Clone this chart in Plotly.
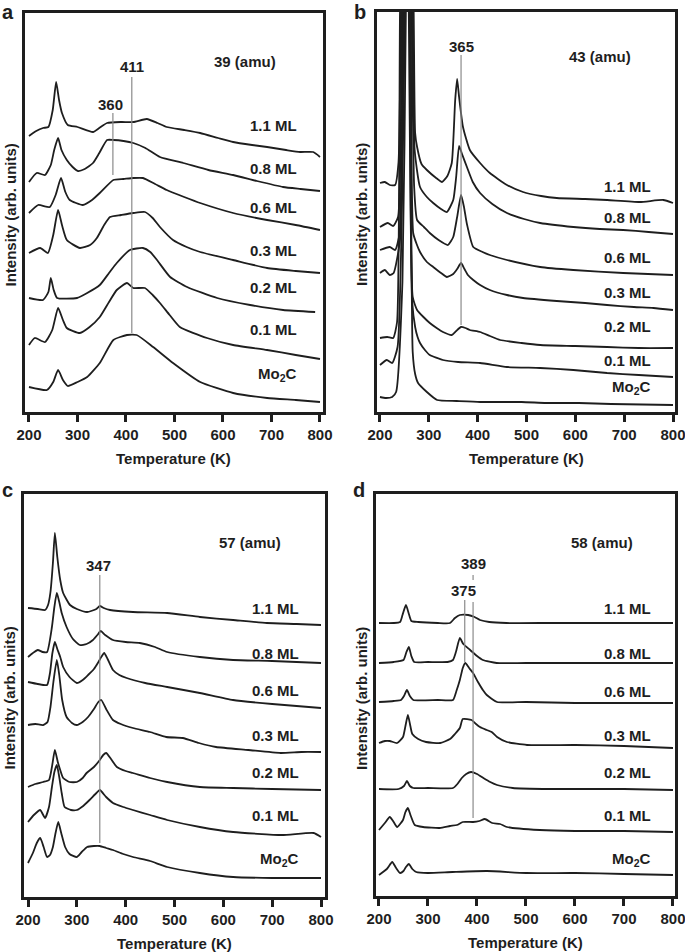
import plotly.graph_objects as go

# ---------------- DATA ----------------
# Each series: list of [temperature (K), intensity (arb. units, stacked offset)]
LABELS = ["1.1 ML", "0.8 ML", "0.6 ML", "0.3 ML", "0.2 ML", "0.1 ML", "Mo<sub>2</sub>C"]
TICKS = [200, 300, 400, 500, 600, 700, 800]

# Panel a: 39 amu
A_11 = [[200,276],[215,281],[229,284],[240,285],[249,302],[256,330],[262,312],[268,299],[280,287],[300,285],[332,280],[345,284],[361,289],[390,290],[415,290],[443,293],[465,289],[484,285],[520,282],[553,279],[590,274],[621,270],[660,267],[691,265],[730,262],[759,260],[786,260],[800,255]]
A_08 = [[200,230],[216,239],[233,237],[245,247],[252,262],[260,274],[267,262],[278,252],[290,245],[301,241],[315,243],[332,249],[345,259],[361,272],[374,272],[395,271],[415,269],[440,264],[470,255],[518,249],[570,242],[621,237],[670,231],[724,225],[760,223],[800,221]]
A_06 = [[200,199],[219,207],[243,205],[255,217],[266,234],[275,220],[284,212],[311,207],[330,212],[346,219],[374,232],[395,233],[415,234],[435,234],[460,228],[484,222],[520,215],[553,209],[621,199],[691,192],[750,187],[800,182]]
A_03 = [[200,159],[223,164],[239,159],[250,177],[260,202],[268,187],[278,172],[305,164],[326,167],[340,174],[355,187],[367,195],[390,197],[415,199],[439,200],[455,194],[470,185],[497,172],[525,165],[553,160],[621,152],[691,144],[750,141],[800,139]]
A_02 = [[200,114],[229,112],[240,120],[245,134],[251,122],[258,114],[299,114],[320,119],[346,127],[365,139],[381,149],[408,162],[435,164],[450,160],[464,152],[491,135],[526,125],[588,114],[656,107],[724,102],[790,100]]
A_01 = [[200,67],[212,74],[233,70],[248,82],[260,104],[270,92],[278,84],[305,79],[325,85],[346,95],[365,110],[381,122],[402,129],[415,124],[439,124],[455,117],[470,109],[490,97],[511,85],[567,74],[621,67],[691,62],[750,57],[800,53]]
A_MO = [[200,25],[237,22],[250,30],[260,42],[270,32],[280,26],[300,30],[320,35],[346,49],[374,72],[402,77],[422,77],[456,65],[497,49],[553,30],[621,19],[691,14],[750,12],[800,10]]
A_MARK_T = [412, 373]            # peak marker lines
A_MARK_I = [[79, 335], [237, 299]]
A_MARK_TXT = ["411", "360"]

# Panel b: 43 amu (the ~255 K peaks run off the top of the frame)
B_11 = [[200,229],[210,230],[220,227],[231,227],[238,250],[243,400],[256,720],[269,400],[272,279],[276,265],[285,248],[296,242],[315,234],[327,230],[338,236],[347,249],[354,312],[358,333],[362,315],[370,285],[384,262],[405,249],[425,239],[460,227],[493,220],[530,216],[562,214],[620,213],[665,212],[732,210],[780,212],[800,209]]
B_08 = [[200,185],[216,189],[227,186],[237,195],[245,400],[256,720],[267,400],[271,262],[282,225],[296,215],[309,209],[325,203],[337,200],[350,212],[356,235],[362,266],[368,258],[378,245],[390,230],[405,219],[430,208],[460,199],[495,193],[528,189],[596,185],[650,183],[698,182],[750,180],[800,178]]
B_06 = [[200,162],[220,165],[231,162],[240,178],[247,400],[256,720],[265,400],[270,225],[276,192],[290,185],[302,179],[320,172],[339,167],[350,175],[358,195],[366,217],[372,205],[378,188],[391,165],[410,160],[425,157],[460,152],[528,145],[596,142],[698,139],[800,137]]
B_03 = [[200,139],[210,142],[220,137],[228,139],[241,172],[249,400],[256,720],[263,400],[268,179],[275,168],[282,160],[296,150],[309,145],[325,139],[337,135],[350,138],[358,143],[366,149],[373,143],[380,137],[391,132],[405,127],[425,122],[460,117],[493,114],[562,111],[620,109],[665,107],[720,105],[760,104],[800,102]]
B_02 = [[200,74],[215,75],[227,74],[235,90],[241,400],[251,720],[261,400],[267,115],[276,102],[289,95],[302,89],[316,84],[329,80],[347,77],[356,81],[366,85],[375,84],[384,82],[405,80],[425,76],[446,72],[490,69],[528,67],[600,66],[665,65],[730,64],[800,64]]
B_01 = [[200,47],[214,52],[225,49],[236,65],[251,400],[255,720],[259,400],[266,110],[272,85],[277,75],[282,69],[292,62],[302,57],[329,52],[360,50],[405,49],[460,45],[528,44],[596,42],[665,39],[730,37],[800,35]]
B_MO = [[200,15],[212,14],[225,15],[233,20],[246,130],[253,400],[258,720],[262,400],[267,60],[272,38],[278,29],[296,20],[317,12],[357,11],[405,10],[490,10],[540,9],[607,9],[673,8],[800,7]]
B_MARK_T = [366]
B_MARK_I = [[87, 357]]
B_MARK_TXT = ["365"]

# Panel c: 57 amu
C_11 = [[200,289],[220,288],[235,287],[241,292],[246,305],[251,334],[255,364],[260,340],[266,317],[272,304],[286,292],[300,288],[321,285],[340,288],[347,291],[355,289],[368,287],[415,285],[485,284],[552,280],[620,277],[689,274],[750,273],[800,272]]
C_08 = [[200,240],[210,244],[220,247],[230,245],[239,245],[249,270],[254,290],[259,304],[264,295],[269,284],[279,270],[292,258],[306,252],[320,253],[333,257],[342,262],[349,266],[358,262],[374,257],[400,255],[429,254],[460,250],[485,245],[552,240],[620,237],[700,236],[800,234]]
C_06 = [[200,215],[220,213],[239,212],[245,224],[250,244],[255,255],[260,248],[266,240],[272,230],[285,220],[300,214],[312,217],[323,222],[335,228],[343,234],[350,240],[356,244],[363,238],[374,227],[387,222],[402,219],[440,214],[485,210],[552,204],[620,197],[700,193],[800,189]]
C_03 = [[200,172],[215,173],[231,172],[240,175],[246,190],[252,215],[259,237],[264,222],[270,197],[279,180],[290,174],[300,172],[312,175],[323,180],[335,188],[344,195],[350,197],[360,188],[374,177],[390,173],[415,169],[450,165],[483,160],[517,159],[550,154],[585,150],[651,147],[717,144],[760,145],[800,145]]
C_02 = [[200,110],[215,113],[231,115],[243,117],[249,130],[255,147],[261,135],[266,127],[272,119],[285,115],[300,115],[312,119],[320,124],[335,130],[347,137],[354,142],[360,144],[370,138],[382,130],[400,126],[415,124],[450,119],[485,115],[552,110],[620,109],[700,108],[800,107]]
C_01 = [[200,75],[212,82],[225,87],[230,83],[235,79],[243,90],[249,110],[254,125],[259,132],[264,120],[269,104],[275,90],[288,87],[300,87],[313,91],[326,97],[340,104],[347,107],[360,100],[374,94],[395,90],[415,87],[450,82],[485,77],[552,70],[620,65],[720,62],[785,64],[800,60]]
C_MO = [[200,34],[210,44],[218,54],[225,59],[232,50],[239,40],[245,42],[251,50],[256,63],[262,75],[268,64],[276,50],[285,43],[300,40],[310,45],[321,50],[335,51],[347,51],[360,49],[374,47],[395,43],[415,40],[450,36],[485,30],[552,24],[620,20],[700,19],[800,19]]
C_MARK_T = [347]
C_MARK_I = [[54, 322]]
C_MARK_TXT = ["347"]

# Panel d: 58 amu
D_11 = [[200,273],[230,273],[243,274],[248,281],[255,291],[261,282],[266,275],[280,274],[320,273],[345,273],[355,278],[365,281],[382,281],[395,279],[406,276],[425,274],[460,273],[550,273],[650,273],[800,273]]
D_08 = [[200,233],[230,234],[250,236],[256,244],[261,249],[266,240],[272,234],[300,234],[340,234],[351,236],[357,244],[365,258],[372,252],[386,246],[400,240],[412,236],[440,233],[500,233],[800,233]]
D_06 = [[200,194],[230,195],[245,196],[251,200],[257,206],[263,200],[270,196],[320,196],[351,196],[358,205],[365,216],[371,228],[376,233],[384,228],[392,223],[402,214],[412,206],[420,201],[441,194],[500,194],[600,193],[800,193]]
D_03 = [[200,153],[212,155],[222,155],[237,153],[249,159],[254,170],[259,181],[264,170],[268,162],[280,157],[296,154],[325,153],[345,157],[355,162],[365,168],[371,177],[389,176],[398,172],[406,169],[420,166],[430,164],[441,159],[461,154],[502,151],[600,151],[700,150],[800,148]]
D_02 = [[200,107],[240,107],[251,110],[257,115],[263,110],[270,108],[300,108],[351,108],[360,112],[369,118],[378,122],[388,124],[400,122],[413,118],[427,114],[441,111],[473,108],[550,107],[700,107],[800,106]]
D_01 = [[200,66],[212,73],[222,79],[230,74],[237,69],[249,76],[254,84],[259,88],[265,80],[273,71],[290,69],[324,68],[345,70],[359,71],[371,74],[392,74],[405,75],[416,77],[431,73],[447,72],[461,69],[528,66],[600,65],[700,65],[800,64]]
D_MO = [[200,21],[216,27],[227,34],[235,28],[243,23],[250,25],[255,29],[261,32],[268,27],[276,24],[300,23],[350,24],[420,25],[500,23],[600,23],[700,22],[800,21]]
D_MARK_T = [392, 392, 375]
D_MARK_I = [[78, 294], [316, 321], [234, 296]]
D_MARK_TXT = ["389", "375"]

# ---------------- LAYOUT ----------------
W, H = 685, 952
FONT = "Liberation Sans, Arial, Helvetica, sans-serif"
INK = "#1e1e1e"

# frame in pixels (left, right, top, bottom) and x range at the frame edges
PANELS = [
    dict(key="a", x0=25, x1=323, y0=13, y1=412, xr=[191.8, 806.2], amu="39 (amu)",
         series=[A_11, A_08, A_06, A_03, A_02, A_01, A_MO],
         mt=A_MARK_T, mi=A_MARK_I, mtxt=A_MARK_TXT,
         mpos=[(412, 345), (369, 307)], amupos=(645, 350),
         lab_y=[286, 243, 204, 161, 124, 82, 37], lab_x=756, let_y=12),
    dict(key="b", x0=377, x1=675, y0=12, y1=412, xr=[193.9, 804.1], amu="43 (amu)",
         series=[B_11, B_08, B_06, B_03, B_02, B_01, B_MO],
         mt=B_MARK_T, mi=B_MARK_I, mtxt=B_MARK_TXT,
         mpos=[(366, 365)], amupos=(650, 355),
         lab_y=[225, 194, 154, 119, 85, 51, 24], lab_x=759, let_y=12),
    dict(key="c", x0=24, x1=325, y0=494, y1=897, xr=[191.8, 808.2], amu="57 (amu)",
         series=[C_11, C_08, C_06, C_03, C_02, C_01, C_MO],
         mt=C_MARK_T, mi=C_MARK_I, mtxt=C_MARK_TXT,
         mpos=[(345, 332)], amupos=(655, 355),
         lab_y=[289, 244, 207, 162, 125, 82, 38], lab_x=759, let_y=490),
    dict(key="d", x0=376, x1=675, y0=494, y1=896, xr=[193.9, 804.1], amu="58 (amu)",
         series=[D_11, D_08, D_06, D_03, D_02, D_01, D_MO],
         mt=D_MARK_T, mi=D_MARK_I, mtxt=D_MARK_TXT,
         mpos=[(392, 333), (373, 306)], amupos=(655, 354),
         lab_y=[288, 243, 205, 161, 124, 81, 37], lab_x=759, let_y=490),
]

fig = go.Figure()
annotations = []
shapes = []

def px_x(p):
    return p / W

def px_y(p):
    return 1 - p / H

def bold_font(size=15):
    return dict(family=FONT, size=size, color=INK, weight="bold")

for i, P in enumerate(PANELS):
    n = "" if i == 0 else str(i + 1)
    xa, ya = "x" + n, "y" + n
    xl, yl = "xaxis" + n, "yaxis" + n
    height = P["y1"] - P["y0"]
    for lab, s in zip(LABELS, P["series"]):
        fig.add_trace(go.Scatter(
            x=[p[0] for p in s], y=[p[1] for p in s], mode="lines",
            line=dict(color=INK, width=1.8, shape="spline", smoothing=0.5),
            name=lab, showlegend=False, xaxis=xa, yaxis=ya, hoverinfo="skip"))
    fig.update_layout(**{
        xl: dict(domain=[px_x(P["x0"]), px_x(P["x1"])], range=P["xr"], anchor=ya,
                 automargin=False, showgrid=False, zeroline=False, showline=True, mirror=True,
                 linecolor=INK, linewidth=2.5, ticks="outside", ticklen=7, tickwidth=2.5,
                 tickcolor=INK, tickvals=TICKS, ticktext=[str(t) for t in TICKS],
                 ticklabeloverflow="allow", tickfont=bold_font(15)),
        yl: dict(domain=[px_y(P["y1"]), px_y(P["y0"])], range=[0, height], anchor=xa,
                 automargin=False, showgrid=False, zeroline=False, showline=True, mirror=True,
                 linecolor=INK, linewidth=2.5, showticklabels=False, ticks=""),
    })
    # peak marker lines
    for t, (i0, i1) in zip(P["mt"], P["mi"]):
        shapes.append(dict(type="line", xref=xa, yref=ya, x0=t, x1=t, y0=i0, y1=i1,
                           line=dict(color="#8a8a8a", width=1.2), layer="above"))
    for txt, (tx, ty) in zip(P["mtxt"], P["mpos"]):
        annotations.append(dict(x=tx, y=ty, xref=xa, yref=ya, text=txt, showarrow=False,
                                font=bold_font(15), xanchor="center", yanchor="middle"))
    # mass label
    annotations.append(dict(x=P["amupos"][0], y=P["amupos"][1], xref=xa, yref=ya, text=P["amu"],
                            showarrow=False, font=bold_font(15),
                            xanchor="center", yanchor="middle"))
    # coverage labels
    for lab, ly in zip(LABELS, P["lab_y"]):
        annotations.append(dict(x=P["lab_x"], y=ly, xref=xa, yref=ya, text=lab, showarrow=False,
                                font=bold_font(15), xanchor="right", yanchor="middle"))
    # axis titles
    cx = (P["x0"] + P["x1"]) / 2
    annotations.append(dict(x=px_x(cx), y=px_y(P["y1"] + 46), xref="paper", yref="paper",
                            text="Temperature (K)", showarrow=False, font=bold_font(15),
                            xanchor="center", yanchor="middle"))
    annotations.append(dict(x=px_x(P["x0"] - 15), y=px_y((P["y0"] + P["y1"]) / 2 + 3),
                            xref="paper", yref="paper", text="Intensity (arb. units)",
                            showarrow=False, textangle=-90, font=bold_font(15),
                            xanchor="center", yanchor="middle"))
    # panel letter
    annotations.append(dict(x=px_x(P["x0"] - 17), y=px_y(P["let_y"]), xref="paper", yref="paper",
                            text=P["key"], showarrow=False, font=bold_font(20),
                            xanchor="center", yanchor="middle"))

fig.update_layout(width=W, height=H, margin=dict(l=0, r=0, t=0, b=0, autoexpand=False),
                  plot_bgcolor="white", paper_bgcolor="white",
                  annotations=annotations, shapes=shapes, showlegend=False)

fig.write_html("out.html", config={"displayModeBar": False},
               post_script="document.body.style.margin='0';document.body.style.padding='0';"
                           "document.body.style.overflow='hidden';")
